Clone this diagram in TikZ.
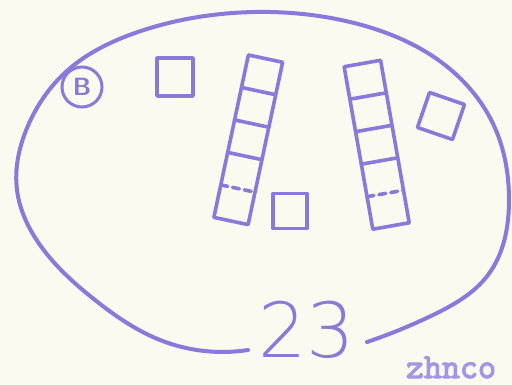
\documentclass[tikz,border=0pt]{standalone}
\usepackage{fontspec}
\usetikzlibrary{hobby}
\newfontfamily\digitfont{DejaVu Sans ExtraLight}
\newfontfamily\typefont{Latin Modern Mono}[FakeBold=3.5]
\definecolor{ink}{RGB}{138,120,218}
\definecolor{inklight}{RGB}{165,150,228}
\definecolor{paper}{RGB}{250,250,240}
\begin{document}
\begin{tikzpicture}[x=1pt,y=-1pt,
  stamp/.style={draw=ink,line width=3.6pt,line join=round,line cap=round},
  sq/.style={stamp,rectangle,inner sep=0pt}]
\fill[paper] (0,0) rectangle (512,385);
\useasboundingbox (0,0) rectangle (512,385);

% outer oval with a gap for the number
\coordinate (gapR) at (367,342);
\coordinate (gapL) at (248,350);
\draw[stamp,line width=4pt] (gapR) to[curve through={(433,315) (488,275) (509,200)
  (495,128) (445,65) (350,22) (233,13) (135,33) (68,70) (27,128) (17,190)
  (40,245) (95,300) (160,340)}] (gapL);

% circled B
\node[circle,draw=ink,line width=3pt,minimum size=40pt,inner sep=0pt,
  text=ink,font=\sffamily\bfseries\fontsize{25}{25}\selectfont] (b) at (82,87) {B};

% single squares
\node[sq,minimum width=36pt,minimum height=38pt] (s1) at (175,77) {};
\node[sq,minimum width=34pt,minimum height=35pt] (s2) at (290,211) {};
\node[sq,minimum width=37pt,minimum height=37pt,rotate=-19] (s3) at (441,116) {};

% left column
\begin{scope}[shift={(231,221)},rotate=-12]
  \draw[stamp] (-17.5,0) rectangle (17.5,-166);
  \foreach \k in {2,3,4} \draw[stamp] (-17.5,-33.2*\k) -- (17.5,-33.2*\k);
  \draw[stamp,dash pattern=on 7pt off 5pt] (-17.5,-33.2) -- (17.5,-33.2);
\end{scope}

% right column
\begin{scope}[shift={(391,226)},rotate=10]
  \draw[stamp] (-18.5,0) rectangle (18.5,-165);
  \foreach \k in {2,3,4} \draw[stamp] (-18.5,-33*\k) -- (18.5,-33*\k);
  \draw[stamp,dash pattern=on 7pt off 5pt] (-18.5,-33) -- (18.5,-33);
\end{scope}

% number
\node[text=ink,inner sep=0pt,font=\digitfont\fontsize{76}{76}\selectfont] (num) at (307,330) {23};

% typed note
\node[text=inklight,inner sep=0pt,anchor=base,font=\typefont\fontsize{35}{35}\selectfont] (tag) at (451,378) {zhnco};
\end{tikzpicture}
\end{document}
